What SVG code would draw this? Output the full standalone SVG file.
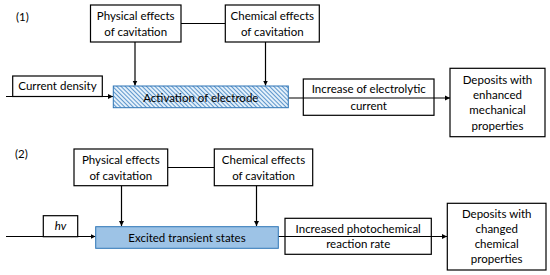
<svg xmlns="http://www.w3.org/2000/svg" width="550" height="275" viewBox="0 0 550 275">
<style>
.box{fill:#fff;stroke:#000;stroke-width:1.2}
.t{font-family:Lato,"Liberation Sans",sans-serif;font-size:11.5px;fill:#000;text-anchor:middle}
.tl{font-family:Lato,"Liberation Sans",sans-serif;font-size:11.5px;fill:#000}
.ln{fill:none;stroke:#000;stroke-width:1.2}
.ar{fill:none;stroke:#000;stroke-width:1.2;marker-end:url(#ah)}
</style>
<defs>
<marker id="ah" markerWidth="6" markerHeight="6" refX="5" refY="3" orient="auto" markerUnits="userSpaceOnUse">
<path d="M0,0.5 L5,3 L0,5.5 Z" fill="#000"/>
</marker>
<pattern id="hatch" width="3" height="3" patternUnits="userSpaceOnUse" patternTransform="rotate(-45)">
<rect width="3" height="3" fill="#e4f0fa"/>
<line x1="0" y1="0" x2="0" y2="3" stroke="#3a7fc0" stroke-width="1.6"/>
</pattern>
</defs>
<text class="tl" x="16" y="21">(1)</text>
<text class="tl" x="15" y="158">(2)</text>
<g id="connectors">
<line class="ln" x1="181" y1="23.5" x2="225" y2="23.5"/>
<line class="ar" x1="135" y1="42" x2="135" y2="85.5"/>
<line class="ar" x1="265.5" y1="42" x2="265.5" y2="85.5"/>
<line class="ar" x1="6" y1="96.5" x2="113" y2="96.5"/>
<line class="ar" x1="288" y1="98" x2="450" y2="98"/>
<line class="ln" x1="167.5" y1="167.5" x2="214" y2="167.5"/>
<line class="ar" x1="121.5" y1="185.5" x2="121.5" y2="226"/>
<line class="ar" x1="256.5" y1="185.5" x2="256.5" y2="226"/>
<line class="ar" x1="6" y1="236.5" x2="95.5" y2="236.5"/>
<line class="ar" x1="278" y1="236.5" x2="447" y2="236.5"/>
</g>
<g id="phys1"><rect class="box" x="90.5" y="5" width="90.5" height="37"/><text class="t" x="135.7" y="20">Physical effects</text><text class="t" x="135.7" y="36">of cavitation</text></g>
<g id="chem1"><rect class="box" x="225.3" y="5" width="94" height="37"/><text class="t" x="272.3" y="20">Chemical effects</text><text class="t" x="272.3" y="36">of cavitation</text></g>
<g id="current"><rect class="box" x="12.7" y="76" width="89.6" height="20.5"/><text class="t" x="57.5" y="90">Current density</text></g>
<g id="activation"><rect x="113.3" y="86" width="175" height="21.7" fill="url(#hatch)" stroke="#2e75b6" stroke-width="1"/><text class="t" x="200.8" y="101.5">Activation of electrode</text></g>
<g id="increase"><rect x="303.3" y="79" width="130.7" height="36.3" fill="none" stroke="#000" stroke-width="1.2"/><text class="t" x="368.7" y="93">Increase of electrolytic</text><text class="t" x="368.7" y="110">current</text></g>
<g id="dep1"><rect class="box" x="450" y="68.3" width="95" height="68.4"/><text class="t" x="497.5" y="84">Deposits with</text><text class="t" x="497.5" y="99">enhanced</text><text class="t" x="497.5" y="114">mechanical</text><text class="t" x="497.5" y="129.5">properties</text></g>
<g id="phys2"><rect class="box" x="74" y="149" width="93.7" height="36.7"/><text class="t" x="120.8" y="164">Physical effects</text><text class="t" x="120.8" y="180">of cavitation</text></g>
<g id="chem2"><rect class="box" x="214.3" y="149" width="98.4" height="36.7"/><text class="t" x="263.5" y="164">Chemical effects</text><text class="t" x="263.5" y="180">of cavitation</text></g>
<g id="hv"><rect class="box" x="43.3" y="215.7" width="34.4" height="21"/><text class="t" x="60.5" y="230" font-style="italic">hv</text></g>
<g id="excited"><rect x="95.7" y="226.7" width="182.6" height="21.6" fill="#9dc3e6" stroke="#2e75b6" stroke-width="1"/><text class="t" x="187" y="241.5">Excited transient states</text></g>
<g id="increased"><rect x="285" y="218.3" width="146.3" height="36" fill="none" stroke="#000" stroke-width="1.2"/><text class="t" x="358.2" y="233">Increased photochemical</text><text class="t" x="358.2" y="248">reaction rate</text></g>
<g id="dep2"><rect class="box" x="447.3" y="203.3" width="98.7" height="66.7"/><text class="t" x="496.7" y="218">Deposits with</text><text class="t" x="496.7" y="233">changed</text><text class="t" x="496.7" y="248">chemical</text><text class="t" x="496.7" y="263">properties</text></g>
</svg>
